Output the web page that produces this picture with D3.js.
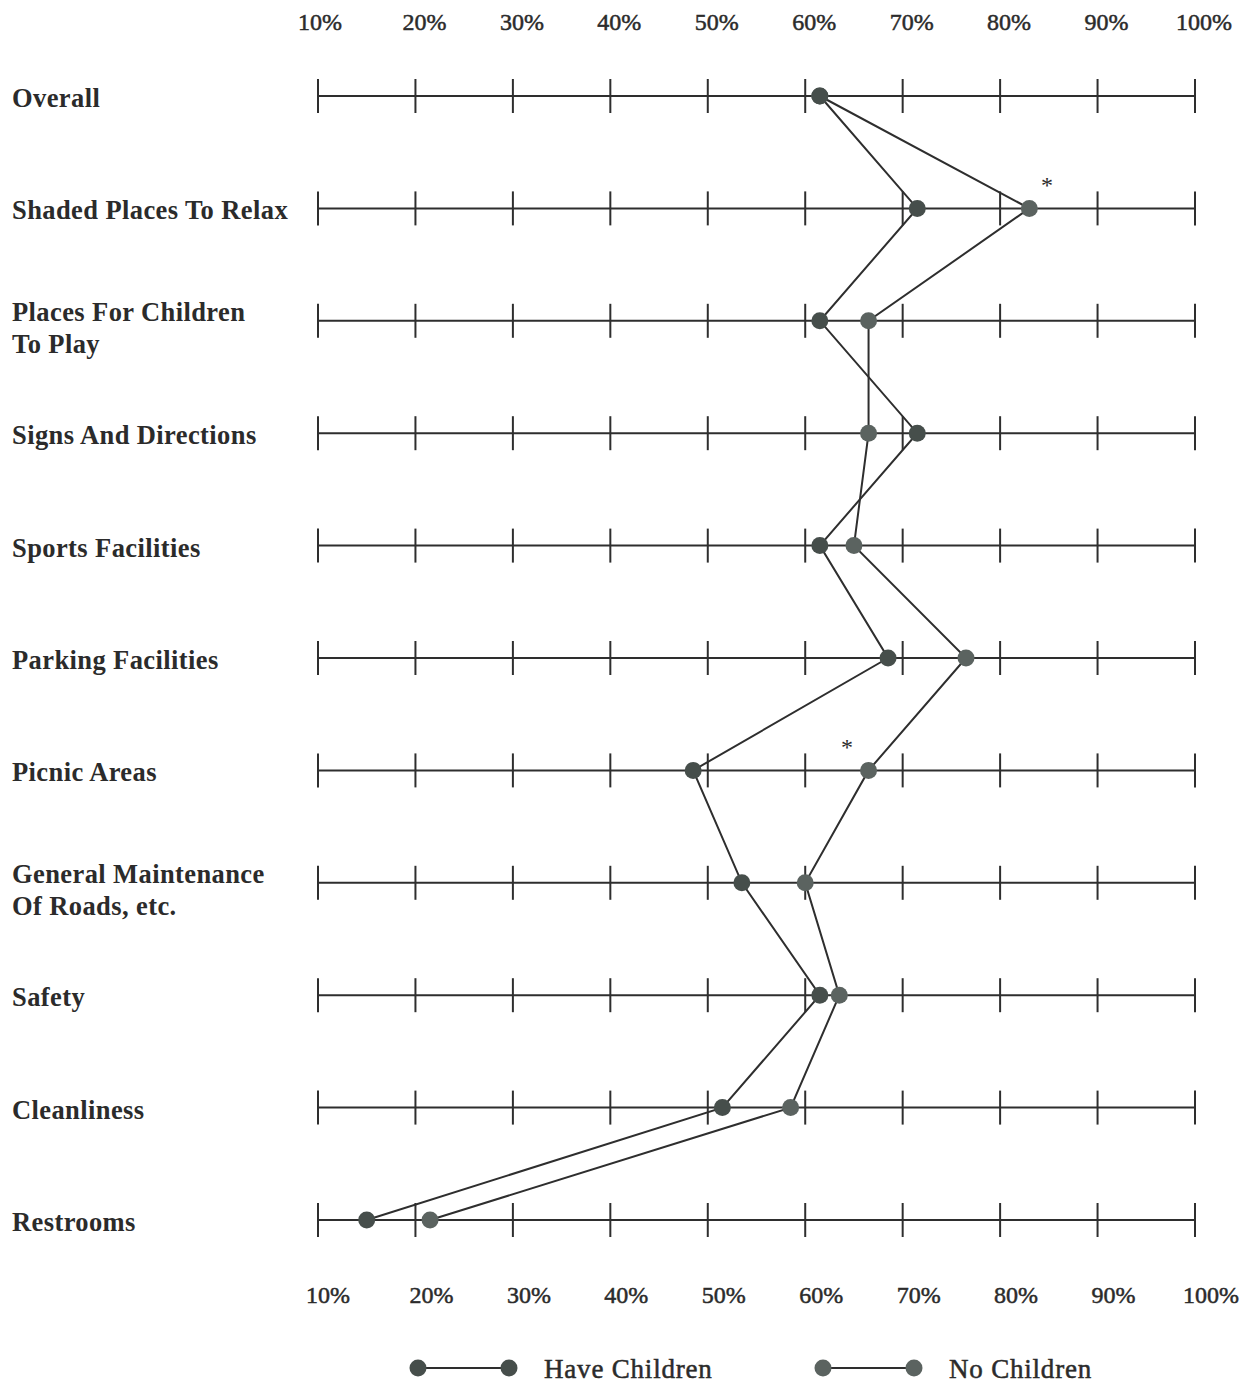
<!DOCTYPE html>
<html>
<head>
<meta charset="utf-8">
<script src="https://cdn.jsdelivr.net/npm/d3@7"></script>
<style>
  body { margin: 0; background: #fff; }
  text { font-family: "Liberation Serif", "DejaVu Serif", serif; fill: #2b2b2b; }
</style>
</head>
<body>
<div id="chart"></div>
<script>
// categories (rows) – multi line labels split on "|"
var categories = ["Overall", "Shaded Places To Relax", "Places For Children|To Play",
                  "Signs And Directions", "Sports Facilities", "Parking Facilities",
                  "Picnic Areas", "General Maintenance|Of Roads, etc.", "Safety",
                  "Cleanliness", "Restrooms"];
var haveChildren = [61.5, 71.5, 61.5, 71.5, 61.5, 68.5, 48.5, 53.5, 61.5, 51.5, 15];
var noChildren   = [61.5, 83, 66.5, 66.5, 65, 76.5, 66.5, 60, 63.5, 58.5, 21.5];
var tickValues = [10, 20, 30, 40, 50, 60, 70, 80, 90, 100];
// asterisks (significant differences) : row index + percent position
var sigRows = [1, 6];
var sigPct  = [84.8, 64.3];

var width = 1252, height = 1385;
var svg = d3.select("#chart").append("svg")
    .attr("width", width)
    .attr("height", height);

var x = d3.scaleLinear().domain([10, 100]).range([318, 1195]);
var y = d3.scalePoint().domain(d3.range(categories.length)).range([96, 1220]);

var ink = "#2e2e2e";

// one little axis per row
categories.forEach(function(c, i) {
    var g = svg.append("g").attr("transform", "translate(0," + y(i) + ")");
    g.append("line")
        .attr("x1", x(10)).attr("x2", x(100))
        .attr("stroke", ink).attr("stroke-width", 2);
    g.selectAll("line.tick")
        .data(tickValues)
        .enter().append("line")
        .attr("class", "tick")
        .attr("x1", function(d) { return x(d); })
        .attr("x2", function(d) { return x(d); })
        .attr("y1", -17).attr("y2", 17)
        .attr("stroke", ink).attr("stroke-width", 2);

    var lines = c.split("|");
    var lab = g.append("text")
        .attr("x", 12)
        .attr("y", lines.length > 1 ? 0 : 11)
        .style("font-size", "26.5px")
        .style("letter-spacing", "0.4px")
        .style("font-weight", "bold");
    lines.forEach(function(t, k) {
        lab.append("tspan").attr("x", 12).attr("dy", k == 0 ? 0 : 32).text(t);
    });
});

// percent labels top and bottom
function pctLabels(yPos, shift) {
    svg.append("g").selectAll("text")
        .data(tickValues)
        .enter().append("text")
        .attr("x", function(d, i) { return x(d) + shift(i); })
        .attr("y", yPos)
        .attr("text-anchor", "middle")
        .style("font-size", "24px")
        .style("stroke", "#2b2b2b")
        .style("stroke-width", 0.5)
        .text(function(d) { return d + "%"; });
}
pctLabels(30, function(i) { return i == 0 ? 2 : 9; });
pctLabels(1303, function(i) { return i == 0 ? 10 : 16; });

// series lines + markers
var series = [
    {name: "Have Children", values: haveChildren, fill: "#464e4b"},
    {name: "No Children", values: noChildren, fill: "#5b6360"}
];

var line = d3.line()
    .x(function(d) { return x(d[1]); })
    .y(function(d) { return y(d[0]); });

series.forEach(function(s) {
    svg.append("path")
        .datum(s.values.map(function(v, i) { return [i, v]; }))
        .attr("fill", "none")
        .attr("stroke", ink)
        .attr("stroke-width", 2)
        .attr("d", line);
});
series.slice().reverse().forEach(function(s) {
    svg.append("g").selectAll("circle")
        .data(s.values)
        .enter().append("circle")
        .attr("cx", function(d) { return x(d); })
        .attr("cy", function(d, i) { return y(i); })
        .attr("r", 8.5)
        .attr("fill", s.fill);
});

// asterisks
svg.selectAll("text.sig")
    .data(sigRows)
    .enter().append("text")
    .attr("class", "sig")
    .attr("x", function(d, i) { return x(sigPct[i]); })
    .attr("y", function(d) { return y(d) - 15; })
    .attr("text-anchor", "middle")
    .style("font-size", "24px")
    .text("*");

// legend
var legend = svg.append("g").attr("transform", "translate(0,1368)");
var legX = [418, 823];
series.forEach(function(s, i) {
    var lg = legend.append("g").attr("transform", "translate(" + legX[i] + ",0)");
    lg.append("line").attr("x1", 0).attr("x2", 91)
        .attr("stroke", ink).attr("stroke-width", 2);
    lg.selectAll("circle").data([0, 91]).enter().append("circle")
        .attr("cx", function(d) { return d; })
        .attr("r", 8.5)
        .attr("fill", s.fill);
    lg.append("text")
        .attr("x", 126).attr("y", 10)
        .style("font-size", "27px")
        .style("letter-spacing", "0.8px")
        .style("stroke", "#2b2b2b")
        .style("stroke-width", 0.5)
        .text(s.name);
});
</script>
</body>
</html>
